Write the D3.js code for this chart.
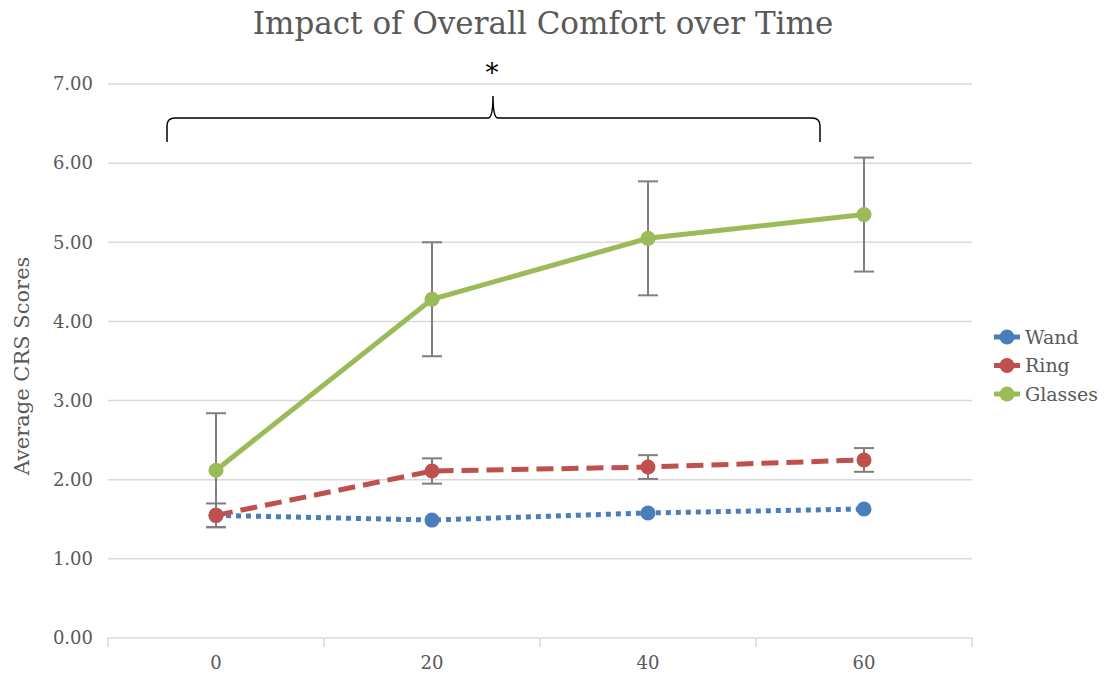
<!DOCTYPE html>
<html><head><meta charset="utf-8">
<script src="https://cdn.jsdelivr.net/npm/d3@7/dist/d3.min.js"></script>
<style>
body{margin:0;background:#fff;}
text{font-family:"DejaVu Serif",serif;}
</style></head>
<body><svg id="c" width="1104" height="677"></svg>
<script>
const categories = ["0","20","40","60"];
const seriesNames = ["Wand","Ring","Glasses"];
const wand = [1.55, 1.49, 1.58, 1.63];
const ring = [1.55, 2.11, 2.16, 2.25];
const glasses = [2.12, 4.28, 5.05, 5.35];
const ringErr = [0.15, 0.16, 0.15, 0.15];
const glassesErr = [0.72, 0.72, 0.72, 0.72];
const yTicks = [0,1,2,3,4,5,6,7];

(function(){
const svg = d3.select("#c");
const pLeft=108, pRight=972, pTop=84, pBottom=638;
const x = d3.scaleBand().domain(categories).range([pLeft,pRight]);
const y = d3.scaleLinear().domain([0,7]).range([pBottom,pTop]);
const cx = c => x(c)+x.bandwidth()/2;

// gridlines
svg.append("g").selectAll("line").data(yTicks.filter(d=>d>0)).join("line")
  .attr("x1",pLeft).attr("x2",pRight).attr("y1",d=>y(d)).attr("y2",d=>y(d))
  .attr("stroke","#d9d9d9").attr("stroke-width",1.5);

// y labels
svg.append("g").selectAll("text").data(yTicks).join("text")
  .attr("x",93).attr("y",d=>y(d)).attr("dy","0.35em").attr("text-anchor","end")
  .attr("font-size",18).attr("fill","#595959")
  .text(d=>d.toFixed(2));

// x axis
const xa = svg.append("g").attr("transform",`translate(0,${pBottom})`);
xa.append("line").attr("x1",pLeft).attr("x2",pRight).attr("stroke","#d9d9d9").attr("stroke-width",1.5);
const bounds = categories.map(c=>x(c)).concat([pRight]);
xa.selectAll("line.t").data(bounds).join("line").attr("class","t")
  .attr("x1",d=>d).attr("x2",d=>d).attr("y1",0).attr("y2",9)
  .attr("stroke","#d9d9d9").attr("stroke-width",1.5);
xa.selectAll("text").data(categories).join("text")
  .attr("x",d=>cx(d)).attr("y",31).attr("text-anchor","middle")
  .attr("font-size",18).attr("fill","#595959")
  .text(d=>d);

// title
svg.append("text").attr("x",543).attr("y",34).attr("text-anchor","middle")
  .attr("font-size",31).attr("fill","#595959")
  .text("Impact of Overall Comfort over Time");

// y title
svg.append("text").attr("transform","translate(29,366) rotate(-90)")
  .attr("text-anchor","middle").attr("font-size",21).attr("fill","#595959")
  .text("Average CRS Scores");

const colors = {Wand:"#4a7ebb", Ring:"#c0504d", Glasses:"#9bbb59"};
const line = d3.line().x((d,i)=>cx(categories[i])).y(d=>y(d));

function errBars(vals, errs){
  const g = svg.append("g").attr("stroke","#7f7f7f").attr("stroke-width",2);
  vals.forEach((v,i)=>{
    const px = cx(categories[i]);
    g.append("line").attr("x1",px).attr("x2",px).attr("y1",y(v+errs[i])).attr("y2",y(v-errs[i]));
    [v+errs[i], v-errs[i]].forEach(e=>{
      g.append("line").attr("x1",px-10).attr("x2",px+10).attr("y1",y(e)).attr("y2",y(e));
    });
  });
}
function series(vals, name, dash){
  svg.append("path").datum(vals).attr("d",line).attr("fill","none")
    .attr("stroke",colors[name]).attr("stroke-width",5).attr("stroke-dasharray",dash);
  svg.append("g").selectAll("circle").data(vals).join("circle")
    .attr("cx",(d,i)=>cx(categories[i])).attr("cy",d=>y(d)).attr("r",7.5).attr("fill",colors[name]);
}
errBars(glasses, glassesErr);
errBars(ring, ringErr);
series(wand, "Wand", "5,5");
series(ring, "Ring", "17,8");
series(glasses, "Glasses", null);

// legend
const lg = svg.append("g");
seriesNames.forEach((n,i)=>{
  const yy = 337 + i*28.5;
  lg.append("line").attr("x1",994).attr("x2",1020).attr("y1",yy).attr("y2",yy)
    .attr("stroke",colors[n]).attr("stroke-width",5);
  lg.append("circle").attr("cx",1007).attr("cy",yy).attr("r",7.5).attr("fill",colors[n]);
  lg.append("text").attr("x",1025).attr("y",yy).attr("dy","0.35em").attr("font-size",19)
    .attr("fill","#595959").text(n);
});

// brace
const bx1=167, bx2=820, bm=493, by=118;
svg.append("path").attr("fill","none").attr("stroke","#000").attr("stroke-width",1.5)
  .attr("d",`M${bx1},${by+24} L${bx1},${by+8} Q${bx1},${by} ${bx1+8},${by} L${bm-5},${by} Q${bm},${by} ${bm},${by-22} Q${bm},${by} ${bm+5},${by} L${bx2-8},${by} Q${bx2},${by} ${bx2},${by+8} L${bx2},${by+24}`);
svg.append("text").attr("x",492).attr("y",82).attr("text-anchor","middle")
  .attr("font-size",26).attr("fill","#000").text("*");
})();
</script></body></html>
